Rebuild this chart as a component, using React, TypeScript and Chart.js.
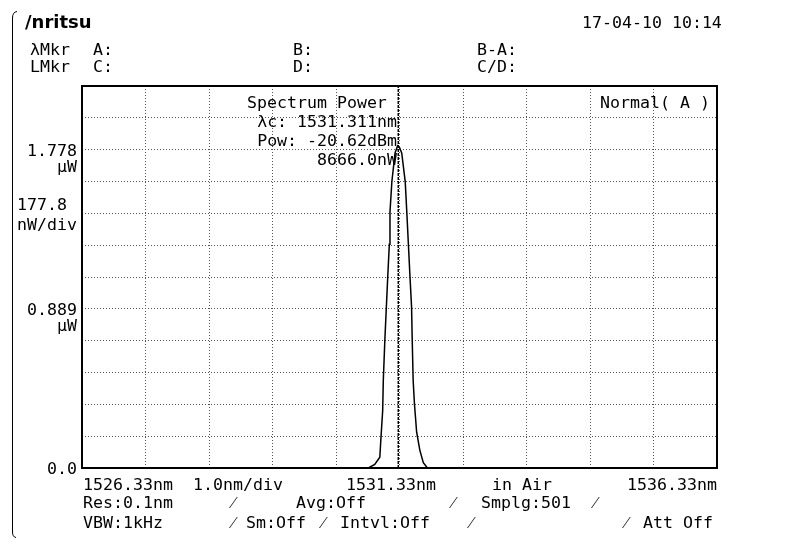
import React, { useEffect, useRef } from "react";
import { Chart, registerables } from "chart.js";

Chart.register(...registerables);

// ---- data ----
const X_GRID = [1526.33, 1527.33, 1528.33, 1529.33, 1530.33, 1531.33, 1532.33, 1533.33, 1534.33, 1535.33, 1536.33];
const Y_GRID = [0, 0.1778, 0.3556, 0.5334, 0.7112, 0.889, 1.0668, 1.2446, 1.4224, 1.6002, 1.778, 1.9558, 2.1336];

const WAVELENGTH_NM = [
  1526.33, 1530.84, 1530.94, 1531.02, 1531.04, 1531.065, 1531.075, 1531.1, 1531.145, 1531.17, 1531.18,
  1531.21, 1531.26, 1531.3, 1531.33, 1531.365, 1531.42, 1531.445, 1531.47, 1531.495, 1531.52, 1531.53,
  1531.545, 1531.565, 1531.6, 1531.65, 1531.705, 1531.77, 1536.33,
];
const POWER_UW = [
  0, 0, 0.02, 0.06, 0.18, 0.32, 0.49, 0.72, 1.07, 1.25, 1.43,
  1.6, 1.76, 1.8, 1.79, 1.76, 1.6, 1.43, 1.25, 1.07, 0.9, 0.72,
  0.49, 0.36, 0.2, 0.1, 0.03, 0, 0,
];
const LAMBDA_C_NM = 1531.311;

const Y_TICK_VALUES = [1.778, 0.889, 0.0];
const Y_TICK_LABELS = ["1.778", "0.889", "0.0"];
const Y_UNIT = "µW";
const Y_DIV = ["177.8", "nW/div"];
const X_LABELS = ["1526.33nm", "1.0nm/div", "1531.33nm", "in Air", "1536.33nm"];
const HEADER = { logo: "/nritsu", date: "17-04-10 10:14" };
const MARKER_ROWS = [
  ["λMkr", "A:", "B:", "B-A:"],
  ["LMkr", "C:", "D:", "C/D:"],
];
const INFO_LINES = ["Spectrum Power", "λc: 1531.311nm", "Pow: -20.62dBm", "8666.0nW"];
const MODE = "Normal( A )";
const FOOT_ROW1 = ["Res:0.1nm", "⁄", "Avg:Off", "⁄", "Smplg:501", "⁄"];
const FOOT_ROW2 = ["VBW:1kHz", "⁄", "Sm:Off", "⁄", "Intvl:Off", "⁄", "⁄", "Att Off"];

// ---- layout (positions only) ----
const FONT = '16.6px "DejaVu Sans Mono"';
const FOOT1_X = [83, 232, 296, 452, 481, 594];
const FOOT2_X = [83, 232, 246, 322, 340, 470, 625, 643];
const MARKER_X = [30, 93, 293, 477];

const textPlugin = {
  id: "texts",
  afterDraw(chart: any) {
    const ctx = chart.ctx as CanvasRenderingContext2D;
    const ca = chart.chartArea;
    const ys = chart.scales.y;
    ctx.save();
    // frame
    ctx.strokeStyle = "#000";
    ctx.lineWidth = 2;
    ctx.strokeRect(ca.left, ca.top, ca.right - ca.left, ca.bottom - ca.top);

    ctx.fillStyle = "#000";
    ctx.textBaseline = "alphabetic";
    // logo
    ctx.font = 'bold 18px "DejaVu Sans"';
    ctx.textAlign = "left";
    ctx.fillText(HEADER.logo, 25, 28);
    ctx.font = FONT;
    ctx.fillText(HEADER.date, 582, 28);
    MARKER_ROWS.forEach((row, r) => {
      row.forEach((t, i) => ctx.fillText(t, MARKER_X[i], 55 + r * 17));
    });

    // info box
    ctx.fillText(INFO_LINES[0], 247, 108);
    ctx.textAlign = "right";
    ctx.fillText(INFO_LINES[1], 397, 127);
    ctx.fillText(INFO_LINES[2], 397, 146);
    ctx.fillText(INFO_LINES[3], 397, 165);
    ctx.textAlign = "left";
    ctx.fillText(MODE, 600, 108);

    // y labels
    ctx.textAlign = "right";
    Y_TICK_VALUES.forEach((v, i) => {
      const py = ys.getPixelForValue(v);
      ctx.fillText(Y_TICK_LABELS[i], ca.left - 5, py + 6);
      if (i < 2) ctx.fillText(Y_UNIT, ca.left - 5, py + 22);
    });
    ctx.textAlign = "left";
    ctx.fillText(Y_DIV[0], 17, 210);
    ctx.fillText(Y_DIV[1], 17, 230);

    // x labels
    const by = ca.bottom + 22;
    ctx.fillText(X_LABELS[0], ca.left + 1, by);
    ctx.fillText(X_LABELS[1], 193, by);
    ctx.fillText(X_LABELS[2], 346, by);
    ctx.fillText(X_LABELS[3], 492, by);
    ctx.textAlign = "right";
    ctx.fillText(X_LABELS[4], ca.right, by);
    ctx.textAlign = "left";

    FOOT_ROW1.forEach((t, i) => ctx.fillText(t, FOOT1_X[i], 508));
    FOOT_ROW2.forEach((t, i) => ctx.fillText(t, FOOT2_X[i], 528));

    // left bracket
    ctx.lineWidth = 1;
    ctx.beginPath();
    ctx.moveTo(17, 11.5);
    ctx.quadraticCurveTo(12.5, 12, 12.5, 18);
    ctx.lineTo(12.5, 532);
    ctx.quadraticCurveTo(12.5, 537, 16, 537.5);
    ctx.stroke();
    ctx.restore();
  },
};

export default function App() {
  const ref = useRef<HTMLCanvasElement | null>(null);
  useEffect(() => {
    if (!ref.current) return;
    const chart = new Chart(ref.current, {
      type: "line",
      data: {
        datasets: [
          {
            data: WAVELENGTH_NM.map((x, i) => ({ x, y: POWER_UW[i] })),
            borderColor: "#000",
            borderWidth: 1.5,
            pointRadius: 0,
            tension: 0,
            fill: false,
          },
          {
            data: [
              { x: LAMBDA_C_NM, y: Y_GRID[0] },
              { x: LAMBDA_C_NM, y: Y_GRID[Y_GRID.length - 1] },
            ],
            borderColor: "#000",
            borderWidth: 1.5,
            borderDash: [3, 1],
            pointRadius: 0,
            fill: false,
          },
        ],
      },
      options: {
        animation: false,
        responsive: false,
        maintainAspectRatio: false,
        layout: { padding: { left: 82, right: 88, top: 86, bottom: 77 } },
        plugins: { legend: { display: false }, tooltip: { enabled: false } },
        scales: {
          x: {
            type: "linear",
            min: X_GRID[0],
            max: X_GRID[X_GRID.length - 1],
            afterBuildTicks: (s: any) => {
              s.ticks = X_GRID.map((v) => ({ value: v }));
            },
            ticks: { display: false },
            grid: { color: "#555", lineWidth: 1, drawTicks: false },
            border: { display: false, dash: [1, 2] },
          },
          y: {
            type: "linear",
            min: Y_GRID[0],
            max: Y_GRID[Y_GRID.length - 1],
            afterBuildTicks: (s: any) => {
              s.ticks = Y_GRID.map((v) => ({ value: v }));
            },
            ticks: { display: false },
            grid: { color: "#555", lineWidth: 1, drawTicks: false },
            border: { display: false, dash: [1, 2] },
          },
        },
      },
      plugins: [textPlugin],
    });
    return () => chart.destroy();
  }, []);
  return (
    <div style={{ position: "absolute", left: 0, top: 0, width: 805, height: 545, background: "#fff" }}>
      <canvas ref={ref} width={805} height={545} style={{ display: "block" }} />
    </div>
  );
}
